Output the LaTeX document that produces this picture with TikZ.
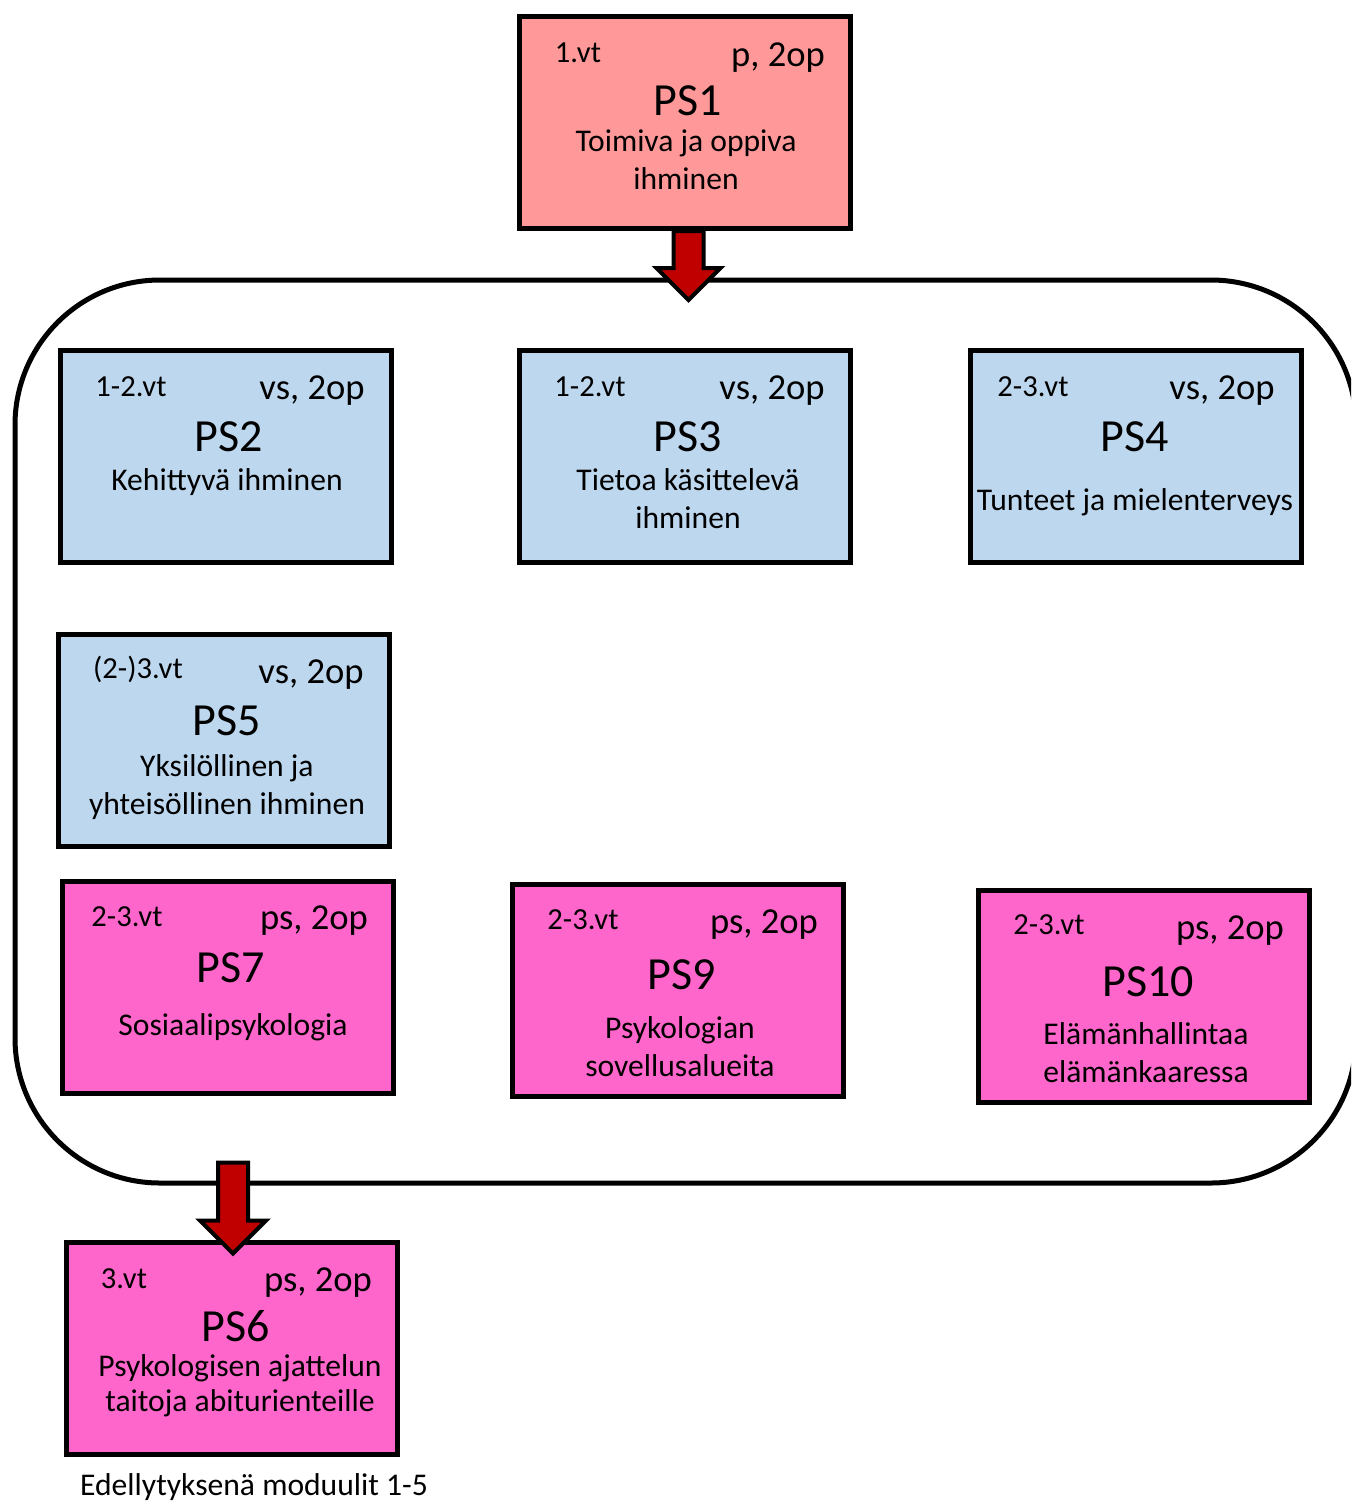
\documentclass[tikz,border=0pt]{standalone}
\usepackage{fontspec}
\setmainfont{Carlito}
\usepackage{tikz}
\usetikzlibrary{positioning, calc}

\definecolor{psred}{HTML}{FF9999}
\definecolor{psblue}{HTML}{BDD7EE}
\definecolor{pspink}{HTML}{FF66CC}
\definecolor{arrowred}{HTML}{C00000}

\begin{document}
\begin{tikzpicture}[
  x=0.5pt, y=-0.5pt,
  module/.style = {draw, line width=2.5pt, minimum width=165.5pt, minimum height=106pt, inner sep=0pt},
  redmodule/.style = {module, fill=psred},
  bluemodule/.style = {module, fill=psblue},
  pinkmodule/.style = {module, fill=pspink},
  framebox/.style = {draw, line width=2.5pt, rounded corners=72.5pt},
  vt/.style = {anchor=base, inner sep=0pt, font=\fontsize{15.3}{18}\selectfont},
  op/.style = {anchor=base, inner sep=0pt, font=\fontsize{18.3}{22}\selectfont},
  title/.style = {anchor=base, inner sep=0pt, font=\fontsize{23}{28}\selectfont},
  desc/.style = {anchor=base, inner sep=0pt, align=center, font=\fontsize{15.8}{19}\selectfont},
  blockarrow/.style = {draw, line width=2pt, fill=arrowred, line join=miter}
]
  \useasboundingbox (0,0) rectangle (1351,1501);
  \clip (0,0) rectangle (1351,1501);

  % ======================================================
  % Rounded frame round the optional modules
  % ======================================================
  \draw[framebox] (15,280) rectangle (1356,1183);

  % PS1 (red block, top)
  \node[redmodule] (ps1) at (684.5,122.5) {};
  \node[vt] (ps1vt) at (578,62) {1.vt};
  \node[op] (ps1op) at (778,66) {p, 2op};
  \node[title] (ps1name) at (688,115) {PS1};
  \node[desc] (ps1text) at (686,189) {Toimiva ja oppiva\\ihminen};

  % PS2
  \node[bluemodule] (ps2) at (226,456.5) {};
  \node[vt] (ps2vt) at (131,396) {1-2.vt};
  \node[op] (ps2op) at (312,399) {vs, 2op};
  \node[title] (ps2name) at (229,451) {PS2};
  \node[desc] (ps2text) at (227,490) {Kehittyvä ihminen};

  % PS3
  \node[bluemodule] (ps3) at (684.5,456.5) {};
  \node[vt] (ps3vt) at (590,396) {1-2.vt};
  \node[op] (ps3op) at (772,399) {vs, 2op};
  \node[title] (ps3name) at (688,451) {PS3};
  \node[desc] (ps3text) at (688,528) {Tietoa käsittelevä\\ihminen};

  % PS4
  \node[bluemodule] (ps4) at (1136,456.5) {};
  \node[vt] (ps4vt) at (1033,396) {2-3.vt};
  \node[op] (ps4op) at (1222,399) {vs, 2op};
  \node[title] (ps4name) at (1135,451) {PS4};
  \node[desc] (ps4text) at (1135,510) {Tunteet ja mielenterveys};

  % PS5
  \node[bluemodule] (ps5) at (223.5,740.5) {};
  \node[vt] (ps5vt) at (138,678) {(2-)3.vt};
  \node[op] (ps5op) at (311,683) {vs, 2op};
  \node[title] (ps5name) at (227,735) {PS5};
  \node[desc] (ps5text) at (227,814) {Yksilöllinen ja\\yhteisöllinen ihminen};

  % PS7
  \node[pinkmodule] (ps7) at (228,987.5) {};
  \node[vt] (ps7vt) at (127,926) {2-3.vt};
  \node[op] (ps7op) at (314,929) {ps, 2op};
  \node[title] (ps7name) at (231,982) {PS7};
  \node[desc] (ps7text) at (233,1035) {Sosiaalipsykologia};

  % PS9
  \node[pinkmodule] (ps9) at (678,990.5) {};
  \node[vt] (ps9vt) at (583,929) {2-3.vt};
  \node[op] (ps9op) at (764,933) {ps, 2op};
  \node[title] (ps9name) at (682,989) {PS9};
  \node[desc] (ps9text) at (680,1076) {Psykologian\\sovellusalueita};

  % PS10
  \node[pinkmodule] (ps10) at (1144,996.5) {};
  \node[vt] (ps10vt) at (1049,934) {2-3.vt};
  \node[op] (ps10op) at (1230,939) {ps, 2op};
  \node[title] (ps10name) at (1148,996) {PS10};
  \node[desc] (ps10text) at (1146,1082) {Elämänhallintaa\\elämänkaaressa};

  % PS6 (below the frame)
  \node[pinkmodule] (ps6) at (232,1348) {};
  \node[vt] (ps6vt) at (124,1288) {3.vt};
  \node[op] (ps6op) at (318,1291) {ps, 2op};
  \node[title] (ps6name) at (236,1341) {PS6};
  \node[desc, font=\fontsize{15.8}{17.5}\selectfont] (ps6text) at (240,1411) {Psykologisen ajattelun\\taitoja abiturienteille};

  % prerequisite note
  \node[desc] (note) at (254,1495) {Edellytyksenä moduulit 1-5};

  % PS1 -> frame
  \draw[blockarrow] ([xshift=2pt]ps1.south) ++(-15,0) -- ++(0,37) -- ++(-17,0) -- ++(32,32)
    -- ++(32,-32) -- ++(-17,0) -- ++(0,-37) -- cycle;

  % frame -> PS6
  \draw[blockarrow] ($(ps6.north)+(1,-77)$) ++(-15,0) -- ++(0,58) -- ++(-18,0) -- ++(33,33)
    -- ++(33,-33) -- ++(-18,0) -- ++(0,-58) -- cycle;

\end{tikzpicture}
\end{document}
